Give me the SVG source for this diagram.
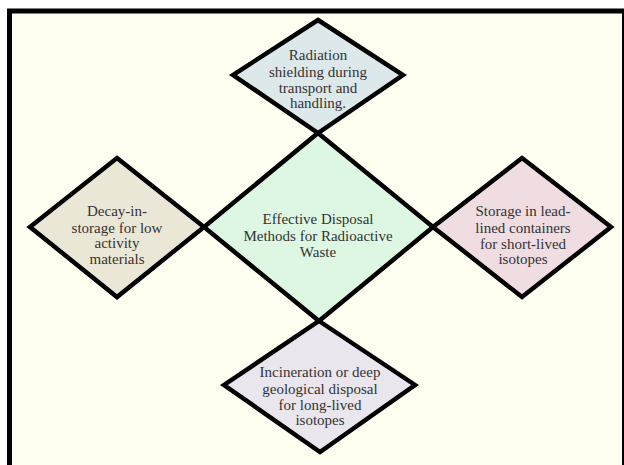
<svg xmlns="http://www.w3.org/2000/svg" width="624" height="465" viewBox="0 0 624 465">
<style>
.d{stroke:#000;stroke-width:4.5;stroke-linejoin:miter}
.t{font-family:"Liberation Serif","Times New Roman",serif;font-size:15px;fill:#333;text-anchor:middle}
</style>
<rect x="0" y="0" width="624" height="465" fill="#ffffff"/>
<rect x="9.5" y="11" width="615" height="470" fill="#fefef1" stroke="#000" stroke-width="5"/>
<g id="connectors"></g>
<g id="center">
<polygon class="d" points="318,133 433,227 319,321 204,227" fill="#ddf7e2"/>
<text class="t" x="318" y="224">Effective Disposal</text>
<text class="t" x="318" y="240.5">Methods for Radioactive</text>
<text class="t" x="318" y="257">Waste</text>
</g>
<g id="top">
<polygon class="d" points="318,20 403,75 318,133 233,75" fill="#dde8ea"/>
<text class="t" x="318" y="60">Radiation</text>
<text class="t" x="318" y="76.5">shielding during</text>
<text class="t" x="318" y="93">transport and</text>
<text class="t" x="318" y="108">handling.</text>
</g>
<g id="left">
<polygon class="d" points="117,158 204,227 117,297 30,227" fill="#ebe7d6"/>
<text class="t" x="117" y="216">Decay-in-</text>
<text class="t" x="117" y="232.5">storage for low</text>
<text class="t" x="117" y="248">activity</text>
<text class="t" x="117" y="264">materials</text>
</g>
<g id="right">
<polygon class="d" points="522,158 611,227 522,297 433,227" fill="#efdde2"/>
<text class="t" x="523" y="216">Storage in lead-</text>
<text class="t" x="523" y="232.5">lined containers</text>
<text class="t" x="523" y="248.5">for short-lived</text>
<text class="t" x="523" y="264">isotopes</text>
</g>
<g id="bottom">
<polygon class="d" points="319,321 415,385 320,452 224,385" fill="#e9e6ee"/>
<text class="t" x="320" y="377">Incineration or deep</text>
<text class="t" x="320" y="393.5">geological disposal</text>
<text class="t" x="320" y="409.5">for long-lived</text>
<text class="t" x="320" y="425">isotopes</text>
</g>
</svg>
